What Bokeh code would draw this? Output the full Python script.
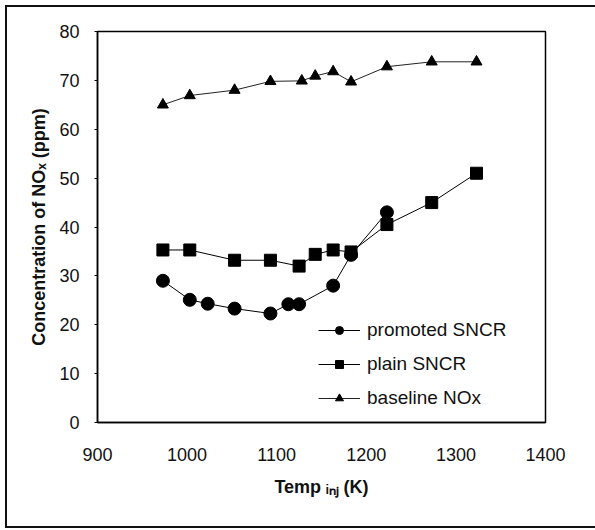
from bokeh.plotting import figure
from bokeh.models import Legend, LegendItem, FixedTicker, Range1d
from bokeh.embed import file_html
from bokeh.resources import INLINE

# ---- data ----
promoted_T = [973, 1003, 1023, 1053, 1093, 1113, 1125, 1163, 1183, 1223]
promoted_NOx = [29.0, 25.1, 24.3, 23.3, 22.3, 24.2, 24.2, 28.0, 34.3, 43.0]

plain_T = [973, 1003, 1053, 1093, 1125, 1143, 1163, 1183, 1223, 1273, 1323]
plain_NOx = [35.3, 35.3, 33.2, 33.2, 32.0, 34.4, 35.3, 34.9, 40.5, 45.0, 51.0]

baseline_T = [973, 1003, 1053, 1093, 1128, 1143, 1163, 1183, 1223, 1273, 1323]
baseline_NOx = [65.0, 66.9, 68.0, 69.8, 69.9, 70.9, 71.8, 69.7, 72.8, 73.8, 73.8]

x_ticks = [900, 1000, 1100, 1200, 1300, 1400]
y_ticks = [0, 10, 20, 30, 40, 50, 60, 70, 80]

x_title = "Temp \u1d62\u2099\u2c7c (K)"
y_title = "Concentration of NO\u2093 (ppm)"

FONT = "Liberation Sans"

# ---- geometry (page px) ----
CX, CY = 7, 7                      # canvas origin on the page
W, H = 588, 519
FL, FR, FT, FB = 97, 543, 31, 418  # frame edges on page

p = figure(width=W, height=H, output_backend="svg", toolbar_location=None,
           x_range=Range1d(900, 1400), y_range=Range1d(0, 80),
           min_border_left=FL - CX, min_border_right=CX + W - FR,
           min_border_top=FT - CY, min_border_bottom=CY + H - FB,
           background_fill_color="white", border_fill_color="white")
p.styles = {"margin": "5px 0px 0px 5px",
            "border-left": "2px solid #111", "border-top": "2px solid #111",
            "border-bottom": "2px solid #111", "border-right": "none",
            "box-sizing": "content-box"}

p.outline_line_color = "black"
p.outline_line_width = 1.5
p.xgrid.visible = False
p.ygrid.visible = False

for ax in (p.xaxis[0], p.yaxis[0]):
    ax.axis_line_color = "black"
    ax.axis_line_width = 1.5
    ax.minor_tick_line_color = None
    ax.major_tick_in = 0
    ax.major_label_text_font = FONT
    ax.major_label_text_font_size = "18px"
    ax.major_label_text_color = "#111"
    ax.major_tick_line_color = "black"
    ax.axis_label_text_font = FONT
    ax.axis_label_text_font_size = "18px"
    ax.axis_label_text_font_style = "bold"
    ax.axis_label_text_color = "#111"

p.xaxis.ticker = FixedTicker(ticks=x_ticks)
p.yaxis.ticker = FixedTicker(ticks=y_ticks)
p.xaxis.major_tick_out = 0
p.xaxis.major_label_standoff = 25
p.yaxis.major_tick_out = 3
p.yaxis.major_label_standoff = 15
p.xaxis.axis_label = x_title
p.yaxis.axis_label = y_title
p.xaxis.axis_label_standoff = 13
p.yaxis.axis_label_standoff = 7

# series
l1 = p.line(promoted_T, promoted_NOx, line_color="black", line_width=1)
s1 = p.scatter(promoted_T, promoted_NOx, marker="circle", size=13,
               fill_color="black", line_color="black")
l2 = p.line(plain_T, plain_NOx, line_color="black", line_width=1)
s2 = p.scatter(plain_T, plain_NOx, marker="square", size=12,
               fill_color="black", line_color="black")
l3 = p.line(baseline_T, baseline_NOx, line_color="#222", line_width=1)
s3 = p.scatter(baseline_T, baseline_NOx, marker="triangle", size=11,
               fill_color="black", line_color="black")

legend = Legend(items=[
    LegendItem(label="promoted SNCR", renderers=[l1, s1]),
    LegendItem(label="plain SNCR", renderers=[l2, s2]),
    LegendItem(label="baseline NOx", renderers=[l3, s3]),
], location=(221, 13))
legend.glyph_width = 42
legend.glyph_height = 20
legend.label_height = 20
legend.label_standoff = 7
legend.spacing = 12
legend.padding = 0
legend.margin = 0
legend.border_line_alpha = 0
legend.background_fill_alpha = 0
legend.label_text_font = FONT
legend.label_text_font_size = "19px"
legend.label_text_color = "#111"
p.add_layout(legend)

open("out.html", "w").write(file_html(p, INLINE))
